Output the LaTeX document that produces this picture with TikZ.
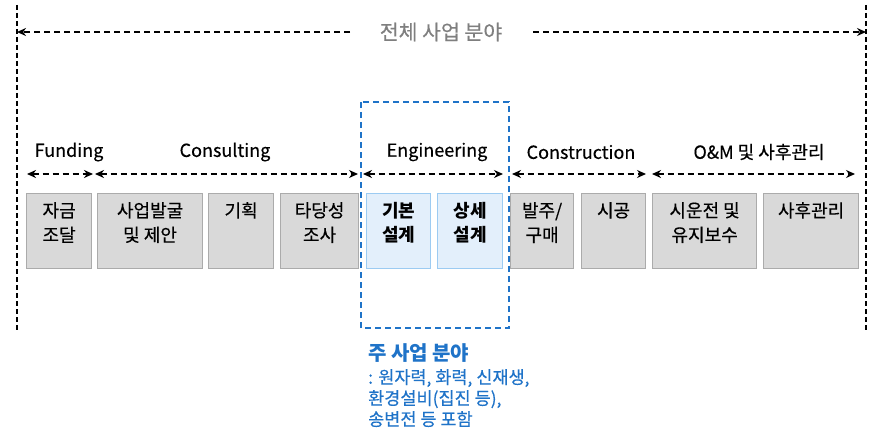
\documentclass[tikz,border=0pt]{standalone}
\usepackage{fontspec}
\setmainfont{Noto Sans CJK KR}
\newfontfamily\medfont[FakeBold=0.35]{Noto Sans CJK KR}
\usetikzlibrary{arrows.meta,positioning}
\definecolor{boxgray}{HTML}{D9D9D9}
\definecolor{boxedge}{HTML}{ABABAB}
\definecolor{bluefill}{HTML}{E3EFFB}
\definecolor{blueedge}{HTML}{9CCBF2}
\definecolor{mainblue}{HTML}{1F73C8}
\definecolor{titlegray}{HTML}{7F7F7F}
\tikzset{
  gbox/.style={draw=boxedge, fill=boxgray, line width=1.2pt, inner sep=0pt},
  bbox/.style={draw=blueedge, fill=bluefill, line width=1.2pt, inner sep=0pt},
  boxtext/.style={anchor=north, align=center, font=\medfont\fontsize{18}{24.5}\selectfont, inner sep=0pt},
  sect/.style={font=\medfont\fontsize{18}{20}\selectfont, inner sep=0pt},
  darr/.style={dashed, dash pattern=on 6pt off 4pt, line width=1.8pt, {Stealth[length=9pt,width=8pt]}-{Stealth[length=9pt,width=8pt]}},
  sarr/.style={dashed, dash pattern=on 6pt off 4pt, line width=1.8pt, -{Stealth[length=9pt,width=8pt]}},
  vline/.style={dash pattern=on 5pt off 3pt, line width=1.3pt},
}
\begin{document}
\begin{tikzpicture}[x=1pt,y=-1pt]
\useasboundingbox (0,0) rectangle (872,433);
% vertical limits
\coordinate (LT) at (17,5); \coordinate (LB) at (17,330);
\coordinate (RT) at (866,5); \coordinate (RB) at (866,330);
\draw[vline] (LT) -- (LB);
\draw[vline] (RT) -- (RB);
% title
\node[font=\medfont\fontsize{20.5}{22}\selectfont, text=titlegray, inner sep=0pt] (title) at (441,32) {전체 사업 분야};
\coordinate (tl) at (17,32); \coordinate (tle) at (350,32);
\coordinate (tr) at (866,32); \coordinate (tre) at (533,32);
\draw[sarr] (tle) -- (tl);
\draw[sarr] (tre) -- (tr);
% blue dashed box
\draw[draw=mainblue, dash pattern=on 6pt off 4pt, line width=1.8pt] (361,102) rectangle (509,328);
% section labels
\node[sect] (sF) at (69,152) {Funding};
\node[sect] (sC) at (225,152) {Consulting};
\node[sect] (sE) at (437,152) {Engineering};
\node[sect] (sK) at (581,152) {Construction};
\node[sect] (sO) at (759,152) {O\&M 및 사후관리};
% section arrows
\coordinate (f1) at (27,174); \coordinate (f2) at (93,174);
\coordinate (c1) at (95,174); \coordinate (c2) at (358,174);
\coordinate (e1) at (363,174); \coordinate (e2) at (503,174);
\coordinate (k1) at (512,174); \coordinate (k2) at (646,174);
\coordinate (o1) at (652,174); \coordinate (o2) at (855,174);
\draw[darr] (f1) -- (f2);
\draw[darr] (c1) -- (c2);
\draw[darr] (e1) -- (e2);
\draw[darr] (k1) -- (k2);
\draw[darr] (o1) -- (o2);
% boxes
\path (26,193)  node[gbox, anchor=north west, minimum width=65pt, minimum height=75pt] (b1) {};
\path (97,193)  node[gbox, anchor=north west, minimum width=105pt, minimum height=75pt] (b2) {};
\path (208,193) node[gbox, anchor=north west, minimum width=65pt, minimum height=75pt] (b3) {};
\path (280,193) node[gbox, anchor=north west, minimum width=78pt, minimum height=75pt] (b4) {};
\path (366,193) node[bbox, anchor=north west, minimum width=64pt, minimum height=75pt] (b5) {};
\path (437,193) node[bbox, anchor=north west, minimum width=65pt, minimum height=75pt] (b6) {};
\path (510,193) node[gbox, anchor=north west, minimum width=63pt, minimum height=75pt] (b7) {};
\path (581,193) node[gbox, anchor=north west, minimum width=64pt, minimum height=75pt] (b8) {};
\path (652,193) node[gbox, anchor=north west, minimum width=104pt, minimum height=75pt] (b9) {};
\path (763,193) node[gbox, anchor=north west, minimum width=95pt, minimum height=75pt] (b10) {};
\node[boxtext, below=9pt] (t1) at (b1.north) {자금\\조달};
\node[boxtext, below=9pt] (t2) at (b2.north) {사업발굴\\및 제안};
\node[boxtext, below=9pt] (t3) at (b3.north) {기획};
\node[boxtext, below=9pt] (t4) at (b4.north) {타당성\\조사};
\node[boxtext, below=9pt, font=\normalfont\fontsize{18}{24.5}\selectfont\bfseries] (t5) at (b5.north) {기본\\설계};
\node[boxtext, below=9pt, font=\normalfont\fontsize{18}{24.5}\selectfont\bfseries] (t6) at (b6.north) {상세\\설계};
\node[boxtext, below=9pt] (t7) at (b7.north) {발주/\\구매};
\node[boxtext, below=9pt] (t8) at (b8.north) {시공};
\node[boxtext, below=9pt] (t9) at (b9.north) {시운전 및\\유지보수};
\node[boxtext, below=9pt] (t10) at (b10.north) {사후관리};
% main business note
\node[anchor=west, inner sep=0pt, text=mainblue, font=\fontsize{20}{22}\selectfont\bfseries] (m1) at (368,353) {주 사업 분야};
\node[anchor=north west, inner sep=0pt, text=mainblue, align=left, font=\medfont\fontsize{17.5}{21}\selectfont] (m2) at (368,369) {: 원자력, 화력, 신재생,\\환경설비(집진 등),\\송변전 등 포함};
\end{tikzpicture}
\end{document}
